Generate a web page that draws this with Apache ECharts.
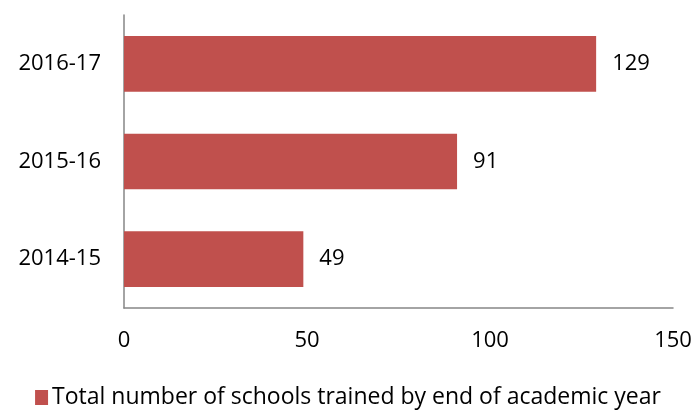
<!DOCTYPE html>
<html><head><meta charset="utf-8">
<script src="https://cdn.jsdelivr.net/npm/echarts@6/dist/echarts.min.js"></script>
<style>html,body{margin:0;padding:0;background:#fff}#c{width:696px;height:410px}</style>
</head><body><div id="c"></div>
<script>
const categories = ["2014-15", "2015-16", "2016-17"];
const values = [49, 91, 129];
const xTicks = [0, 50, 100, 150];
const seriesName = "Total number of schools trained by end of academic year";
const font = "'Open Sans', 'Liberation Sans', sans-serif";
const chart = echarts.init(document.getElementById('c'), null, {renderer:'canvas'});
chart.setOption({
  animation: false,
  grid: {left: 124, top: 15, right: 23, bottom: 102},
  xAxis: {type: 'value', min: xTicks[0], max: xTicks[xTicks.length-1], interval: 50,
    axisLine: {show: true, lineStyle: {color: '#868686', width: 1.5}},
    axisTick: {show: false}, splitLine: {show: false},
    axisLabel: {color: '#000', fontSize: 22, fontFamily: font, margin: 22}},
  yAxis: {type: 'category', data: categories,
    axisLine: {show: true, lineStyle: {color: '#868686', width: 1.5}},
    axisTick: {show: false},
    axisLabel: {color: '#000', fontSize: 22, fontFamily: font, margin: 23}},
  legend: {bottom: -4, left: 'center', itemWidth: 13, itemHeight: 15, itemGap: 4,
    icon: 'rect',
    textStyle: {color: '#000', fontSize: 23, fontFamily: font, padding: [0,0,0,-1]},
    data: [seriesName]},
  series: [{name: seriesName, type: 'bar', data: values, barCategoryGap: '43%',
    itemStyle: {color: '#C0504D'},
    label: {show: true, position: 'right', distance: 16, color: '#000', fontSize: 22, fontFamily: font}}]
});
</script></body></html>
